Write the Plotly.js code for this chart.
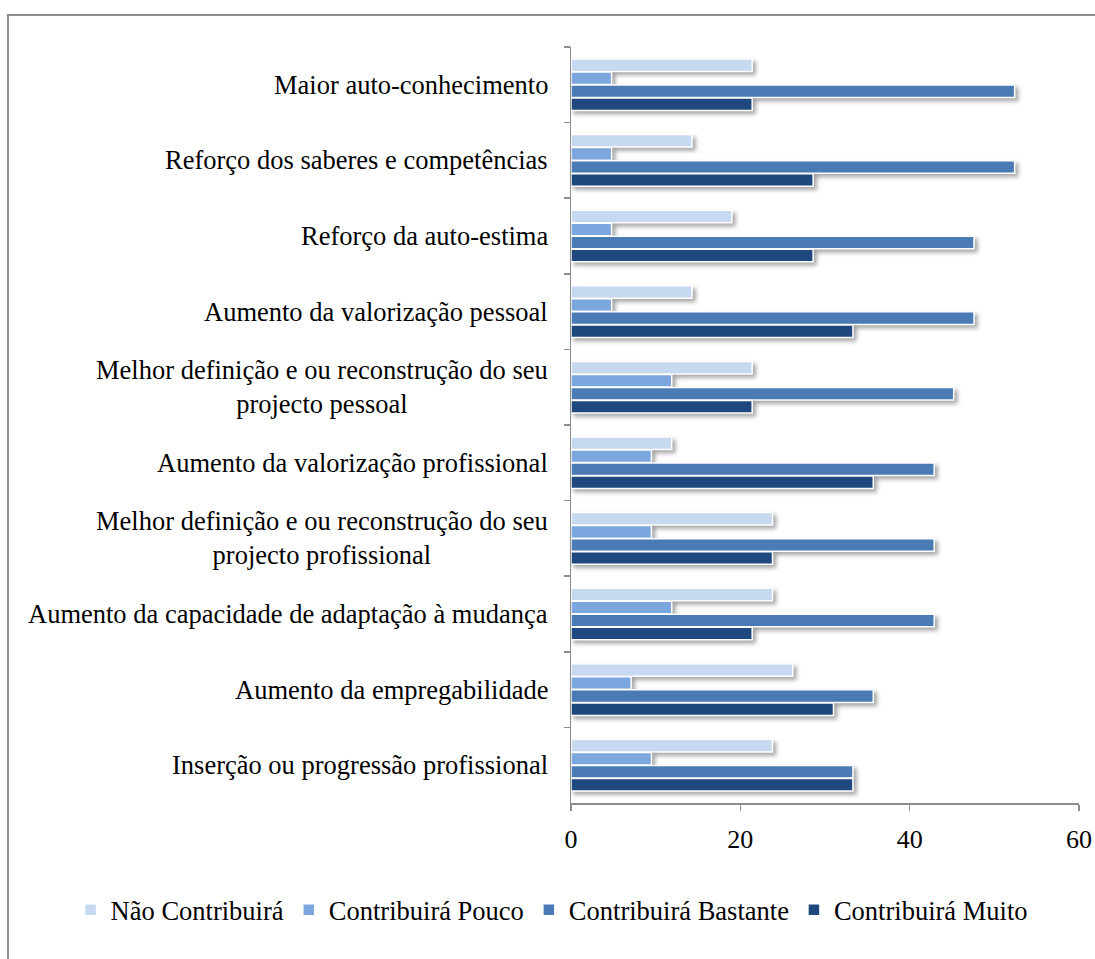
<!DOCTYPE html>
<html>
<head>
<meta charset="utf-8">
<script src="https://cdn.plot.ly/plotly-3.0.1.min.js"></script>
<style>
html,body{margin:0;padding:0;overflow:hidden;background:#fff;}
#chart{width:1095px;height:959px;}
#frame{position:absolute;left:7px;top:14px;width:1200px;height:1200px;border-left:2px solid #8c8c8c;border-top:2px solid #8c8c8c;pointer-events:none;}
.js-plotly-plot .plotly .bars .point path{filter:drop-shadow(3px 3px 2px rgba(0,0,0,0.35));}
</style>
</head>
<body>
<div id="chart"></div>
<div id="frame"></div>
<script>
var categories = [
  "Maior auto-conhecimento",
  "Reforço dos saberes e competências",
  "Reforço da auto-estima",
  "Aumento da valorização pessoal",
  "Melhor definição e ou reconstrução do seu<br>projecto pessoal",
  "Aumento da valorização profissional",
  "Melhor definição e ou reconstrução do seu<br>projecto profissional",
  "Aumento da capacidade de adaptação à mudança",
  "Aumento da empregabilidade",
  "Inserção ou progressão profissional"
];
var seriesNames = ["Não Contribuirá", "Contribuirá Pouco", "Contribuirá Bastante", "Contribuirá Muito"];
var naoContribuira =      [21.4, 14.3, 19.0, 14.3, 21.4, 11.9, 23.8, 23.8, 26.2, 23.8];
var contribuiraPouco =    [4.8, 4.8, 4.8, 4.8, 11.9, 9.5, 9.5, 11.9, 7.1, 9.5];
var contribuiraBastante = [52.4, 52.4, 47.6, 47.6, 45.2, 42.9, 42.9, 42.9, 35.7, 33.3];
var contribuiraMuito =    [21.4, 28.6, 28.6, 33.3, 21.4, 35.7, 23.8, 21.4, 31.0, 33.3];
var xTicks = [0, 20, 40, 60];

var colors = ["#c6d9f1", "#7ba7de", "#4a7bb5", "#1f497e"];
var values = [naoContribuira, contribuiraPouco, contribuiraBastante, contribuiraMuito];
var font = "'Liberation Serif', 'Times New Roman', serif";

var traces = values.map(function(v, i){
  return {
    type: "bar", orientation: "h",
    x: v, y: categories, name: seriesNames[i],
    marker: {color: colors[i], line: {color: "#ffffff", width: 1.5}},
    hoverinfo: "x+name"
  };
});

var annotations = categories.map(function(c, i){
  return {
    text: c, xref: "paper", yref: "y", x: 0, y: i,
    xanchor: "right", yanchor: "middle", align: "center",
    xshift: -21, showarrow: false,
    font: {family: font, size: 26.5, color: "#000"}
  };
});

var layout = {
  width: 1095, height: 959,
  margin: {l: 571, r: 16, t: 47, b: 156, autoexpand: false},
  paper_bgcolor: "rgba(0,0,0,0)", plot_bgcolor: "rgba(0,0,0,0)",
  barmode: "group", bargap: 0.31, bargroupgap: 0.04,
  showlegend: true,
  legend: {
    orientation: "h", x: -0.985, xanchor: "left",
    y: -0.1415, yanchor: "middle",
    font: {family: font, size: 26.5, color: "#000"},
    itemwidth: 30, tracegroupgap: 0, traceorder: "normal"
  },
  xaxis: {
    range: [0, 60], tickvals: xTicks, ticktext: xTicks.map(String),
    showgrid: false, zeroline: false, showline: true,
    linecolor: "#8c8c8c", linewidth: 1.5,
    ticks: "outside", ticklen: 6, tickcolor: "#8c8c8c", tickwidth: 1.5,
    ticklabelstandoff: 6,
    tickfont: {family: font, size: 26, color: "#000"}
  },
  yaxis: {
    type: "category", autorange: "reversed",
    showticklabels: false, showgrid: false, zeroline: false,
    showline: true, linecolor: "#8c8c8c", linewidth: 1.5,
    ticks: "outside", tickson: "boundaries", ticklen: 6,
    tickcolor: "#8c8c8c", tickwidth: 1.5
  },
  annotations: annotations
};

Plotly.newPlot("chart", traces, layout, {displayModeBar: false, staticPlot: true});
</script>
</body>
</html>
